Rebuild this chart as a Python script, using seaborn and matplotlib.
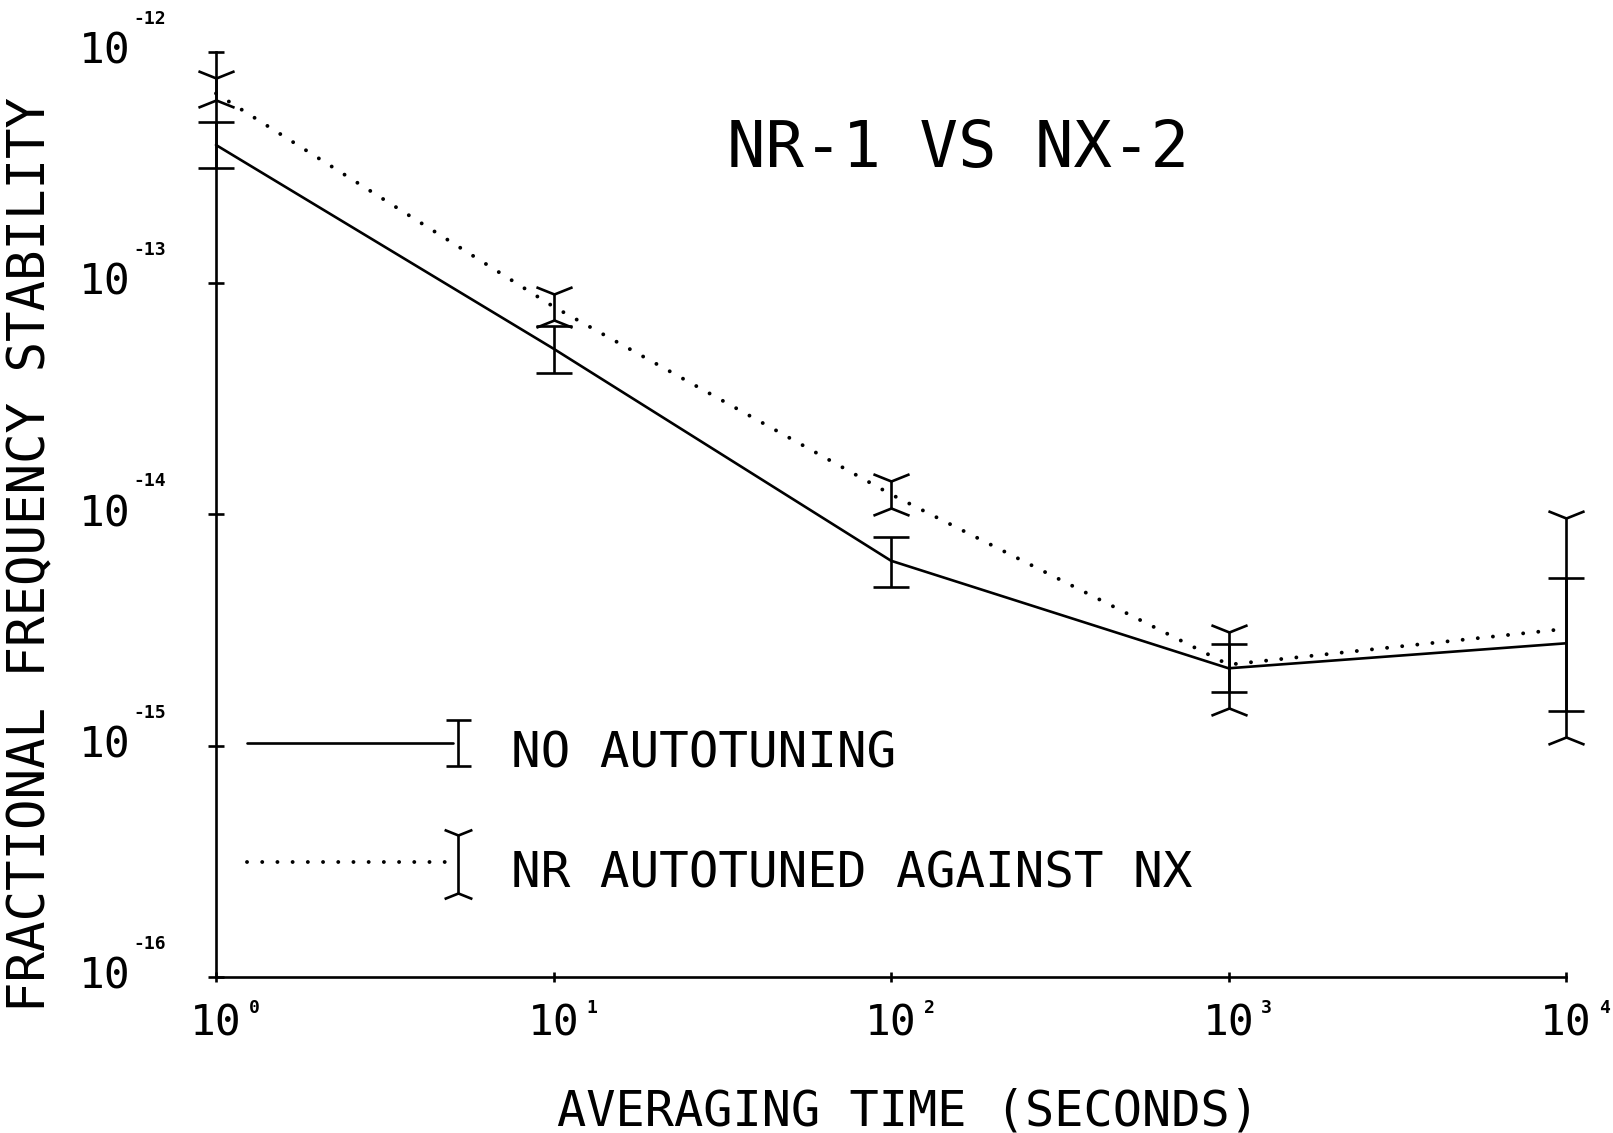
import numpy as np
import seaborn as sns
import matplotlib.pyplot as plt
from matplotlib.path import Path
from matplotlib.transforms import blended_transform_factory

# values (averaging time in seconds, fractional stability)
tau = [1, 10, 100, 1000, 10000]
no_auto = [3.95e-13, 5.2e-14, 6.3e-15, 2.16e-15, 2.77e-15]
no_auto_lo = [3.13e-13, 4.1e-14, 4.86e-15, 1.70e-15, 1.41e-15]
no_auto_hi = [4.97e-13, 6.5e-14, 7.96e-15, 2.75e-15, 5.32e-15]
auto = [6.6e-13, 7.9e-14, 1.22e-14, 2.24e-15, 3.2e-15]
auto_lo = [6.2e-13, 6.9e-14, 1.07e-14, 1.45e-15, 1.09e-15]
auto_hi = [7.7e-13, 9.0e-14, 1.40e-14, 3.10e-15, 9.6e-15]

x_exps = ["0", "1", "2", "3", "4"]
y_exps = ["-12", "-13", "-14", "-15", "-16"]
legend_labels = ["NO AUTOTUNING", "NR AUTOTUNED AGAINST NX"]

sns.set_style("ticks", {"axes.edgecolor": "black", "text.color": "black",
                        "xtick.color": "black", "ytick.color": "black"})
plt.rcParams['font.family'] = ['DejaVu Sans Mono', 'DejaVu Sans']

fig = plt.figure(figsize=(16.13, 11.33), dpi=100)
ax = fig.add_axes([0.1339, 0.1377, 0.8370, 0.8167])

LW = 1.9
dotted = (0, (0.01, 3.9))

# V / inverted-V cap markers for the autotuned series
cap_up = Path([(-1, 0.4), (0, 0), (1, 0.4)], [Path.MOVETO, Path.LINETO, Path.LINETO])
cap_dn = Path([(-1, -0.4), (0, 0), (1, -0.4)], [Path.MOVETO, Path.LINETO, Path.LINETO])

sns.lineplot(x=tau, y=no_auto, ax=ax, color='black', lw=LW, clip_on=False)
sns.lineplot(x=tau, y=auto, ax=ax, color='black', lw=2.8, linestyle=dotted,
             dash_capstyle='round', clip_on=False)

na = np.array(no_auto)
eb1 = ax.errorbar(tau, na, yerr=[na - np.array(no_auto_lo), np.array(no_auto_hi) - na],
                  fmt='none', ecolor='black', elinewidth=LW, capsize=13, capthick=LW)
au = np.array(auto)
eb2 = ax.errorbar(tau, au, yerr=[au - np.array(auto_lo), np.array(auto_hi) - au],
                  fmt='none', ecolor='black', elinewidth=LW, capsize=0)
for eb in (eb1, eb2):
    for art in eb.lines[1] + eb.lines[2]:
        art.set_clip_on(False)
ax.plot(tau, auto_hi, ls='none', marker=cap_up, ms=26, mew=LW, mfc='none', mec='black',
        clip_on=False)
ax.plot(tau, auto_lo, ls='none', marker=cap_dn, ms=26, mew=LW, mfc='none', mec='black',
        clip_on=False)

ax.set_xscale('log')
ax.set_yscale('log')
ax.set_xlim(1, 1e4)
ax.set_ylim(1e-16, 1e-12)
x_ticks = [10.0 ** int(e) for e in x_exps]
y_ticks = [10.0 ** int(e) for e in y_exps]
ax.set_xticks(x_ticks)
ax.set_yticks(y_ticks)
ax.minorticks_off()
ax.set_xticklabels([])
ax.set_yticklabels([])
ax.tick_params(axis='y', direction='inout', length=11, width=LW, color='black')
ax.tick_params(axis='x', direction='inout', length=7, width=LW, color='black')
sns.despine(ax=ax)
for s in ('left', 'bottom'):
    ax.spines[s].set_linewidth(LW)
    ax.spines[s].set_color('black')

# tick labels drawn as "10" with a raised exponent, plotter style
ty = blended_transform_factory(ax.transAxes, ax.transData)
for v, e in zip(y_ticks, y_exps):
    ax.annotate("10", xy=(0, v), xycoords=ty, xytext=(-111, 0), textcoords='offset pixels',
                ha='center', va='center', fontsize=31, color='black')
    ax.annotate(e, xy=(0, v), xycoords=ty, xytext=(-66, 33), textcoords='offset pixels',
                ha='center', va='center', fontsize=13, fontweight='bold', color='black')
tx = blended_transform_factory(ax.transData, ax.transAxes)
for v, e in zip(x_ticks, x_exps):
    ax.annotate("10", xy=(v, 0), xycoords=tx, xytext=(0, -47), textcoords='offset pixels',
                ha='center', va='center', fontsize=31, color='black')
    ax.annotate(e, xy=(v, 0), xycoords=tx, xytext=(38, -31), textcoords='offset pixels',
                ha='center', va='center', fontsize=13, fontweight='bold', color='black')

ax.text(0.5496, 0.8948, "NR-1 VS NX-2", transform=ax.transAxes, ha='center', va='center',
        fontsize=46, color='black')

# hand-drawn legend
ta = ax.transAxes
ax.plot([0.023, 0.1756], [0.2529, 0.2529], color='black', lw=LW, transform=ta)
ax.errorbar([0.179], [0.2529], yerr=[[0.0249], [0.0248]], fmt='none', ecolor='black',
            elinewidth=LW, capsize=9, capthick=LW, transform=ta)
ax.plot([0.023, 0.172], [0.1243, 0.1243], color='black', lw=2.8, linestyle=dotted,
        dash_capstyle='round', transform=ta)
ax.plot([0.179, 0.179], [0.0908, 0.1535], color='black', lw=LW, transform=ta)
ax.plot([0.179], [0.1535], marker=cap_up, ms=20, mew=LW, mfc='none', mec='black', transform=ta)
ax.plot([0.179], [0.0908], marker=cap_dn, ms=20, mew=LW, mfc='none', mec='black', transform=ta)
ax.text(0.2185, 0.241, legend_labels[0], transform=ta, ha='left', va='center',
        fontsize=35.5, color='black')
ax.text(0.2185, 0.1113, legend_labels[1], transform=ta, ha='left', va='center',
        fontsize=35.5, color='black')

fig.text(0.0192, 0.5102, "FRACTIONAL FREQUENCY STABILITY", rotation=90, ha='center',
         va='center', fontsize=36.5, color='black')
fig.text(0.563, 0.0194, "AVERAGING TIME (SECONDS)", ha='center', va='center', fontsize=35,
         color='black')

fig.savefig("out.png", dpi=100)
